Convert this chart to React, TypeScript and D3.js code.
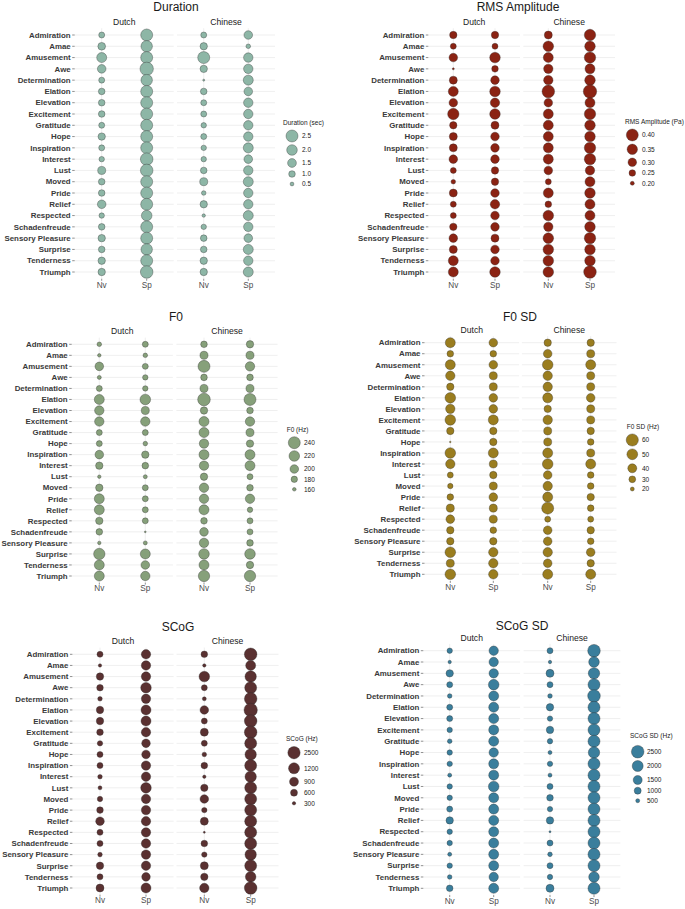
import React from "react";
import * as d3 from "d3";

const emotions = ["Admiration","Amae","Amusement","Awe","Determination","Elation","Elevation","Excitement","Gratitude","Hope","Inspiration","Interest","Lust","Moved","Pride","Relief","Respected","Schadenfreude","Sensory Pleasure","Surprise","Tenderness","Triumph"];
const cultures = ["Dutch", "Chinese"];
const vocalTypes = ["Nv", "Sp"];

// Duration (sec)
const durationDutchNv = [0.89,1.25,1.83,1.45,0.89,1.0,1.0,1.0,0.89,1.18,0.89,0.79,1.32,1.0,1.0,1.45,0.79,1.0,1.18,1.0,1.18,1.18];
const durationDutchSp = [2.5,2.3,2.5,3.0,2.3,2.5,2.5,2.5,2.5,2.5,2.5,2.7,2.7,2.5,2.5,2.5,2.0,2.5,2.5,2.3,2.5,2.7];
const durationChineseNv = [0.89,1.18,2.5,1.18,0.18,1.0,0.89,0.89,0.79,0.89,0.79,0.79,1.0,1.32,0.64,1.18,0.43,0.79,1.0,1.0,1.18,1.18];
const durationChineseSp = [1.45,0.64,1.67,1.67,1.83,1.45,1.67,1.67,1.67,1.67,1.83,1.45,1.67,1.83,1.67,1.67,1.83,1.67,1.45,1.83,1.67,1.83];
const durationBreaks = [0.5, 1.0, 1.5, 2.0, 2.5];
const durationBreakLabels = ["0.5", "1.0", "1.5", "2.0", "2.5"];

// RMS Amplitude (Pa)
const rmsDutchNv = [0.27,0.238,0.30,0.162,0.285,0.339,0.30,0.381,0.27,0.285,0.285,0.30,0.238,0.212,0.285,0.238,0.238,0.27,0.30,0.285,0.339,0.339];
const rmsDutchSp = [0.27,0.238,0.356,0.25,0.30,0.356,0.322,0.356,0.285,0.30,0.30,0.30,0.27,0.27,0.30,0.322,0.30,0.30,0.285,0.30,0.30,0.356];
const rmsChineseNv = [0.285,0.356,0.339,0.322,0.322,0.419,0.30,0.339,0.339,0.339,0.339,0.339,0.30,0.238,0.339,0.25,0.356,0.322,0.356,0.356,0.356,0.356];
const rmsChineseSp = [0.381,0.356,0.381,0.339,0.356,0.444,0.339,0.381,0.356,0.356,0.381,0.381,0.322,0.339,0.356,0.339,0.339,0.356,0.381,0.356,0.356,0.419];
const rmsBreaks = [0.2, 0.25, 0.3, 0.35, 0.4];
const rmsBreakLabels = ["0.20", "0.25", "0.30", "0.35", "0.40"];

// F0 (Hz)
const f0DutchNv = [167,159,200,163,177,214,208,208,177,177,200,189,159,189,214,214,189,182,159,231,214,214];
const f0DutchSp = [177,167,177,173,173,220,195,208,177,167,189,182,163,177,177,177,177,147,163,214,200,208];
const f0ChineseNv = [182,195,240,182,195,249,189,214,214,208,214,208,189,208,208,214,182,200,208,220,214,231];
const f0ChineseSp = [189,195,208,182,195,240,182,208,195,189,214,214,177,182,208,173,177,177,182,220,189,231];
const f0Breaks = [160, 180, 200, 220, 240];
const f0BreakLabels = ["160", "180", "200", "220", "240"];

// F0 SD (Hz)
const f0sdDutchNv = [45.6,29.3,45.6,42.2,32.7,48.9,42.2,48.9,32.7,11.4,48.9,42.2,27.1,25,29.3,35.5,38.2,32.7,32.7,48.9,35.5,48.9];
const f0sdDutchSp = [38.2,29.3,38.2,35.5,35.5,38.2,38.2,45.6,32.7,32.7,45.6,35.5,32.7,35.5,38.2,35.5,35.5,29.3,32.7,42.2,42.2,42.2];
const f0sdChineseNv = [32.7,38.2,48.9,42.2,42.2,45.6,32.7,42.2,35.5,35.5,45.6,48.9,38.2,42.2,45.6,58.6,27.1,38.2,38.2,42.2,38.2,45.6];
const f0sdChineseSp = [32.7,35.5,45.6,35.5,35.5,38.2,35.5,35.5,32.7,29.3,35.5,45.6,29.3,29.3,32.7,29.3,27.1,32.7,29.3,38.2,32.7,45.6];
const f0sdBreaks = [20, 30, 40, 50, 60];
const f0sdBreakLabels = ["20", "30", "40", "50", "60"];

// SCoG (Hz)
const scogDutchNv = [517,300,660,567,400,660,660,567,467,517,517,400,350,467,567,840,517,517,400,660,517,750];
const scogDutchSp = [960,960,960,1140,960,1050,1050,960,840,840,960,960,1140,960,960,960,960,960,960,960,840,1050];
const scogChineseNv = [567,300,1140,517,350,840,517,750,517,400,567,300,660,840,467,750,183,567,467,750,660,960];
const scogChineseSp = [2686,1050,1571,2129,2686,3429,2686,2686,2129,1571,2129,1571,2129,2129,2129,2129,2129,2129,1571,2129,1140,2686];
const scogBreaks = [300, 600, 900, 1200, 2500];
const scogBreakLabels = ["300", "600", "900", "1200", "2500"];

// SCoG SD (Hz)
const scogsdDutchNv = [733,400,1100,833,600,833,833,733,600,733,733,500,733,733,833,1100,733,733,500,733,600,933];
const scogsdDutchSp = [1600,1600,1600,1900,1750,1750,1750,1750,1750,1600,1750,1750,1900,1750,1750,1750,1750,1750,1750,1750,1600,1750];
const scogsdChineseNv = [833,400,1250,833,600,1100,733,1100,733,500,733,500,833,933,733,1100,167,833,600,833,733,1250];
const scogsdChineseSp = [2500,1900,2125,2313,2500,2313,2313,2313,2313,2125,2313,2313,2313,2313,2313,2313,2313,2313,2313,2313,1900,2313];
const scogsdBreaks = [500, 1000, 1500, 2000, 2500];
const scogsdBreakLabels = ["500", "1000", "1500", "2000", "2500"];

const FONT = "'Liberation Sans', Arial, Helvetica, sans-serif";

const panels = [
  {
    title: "Duration", legendTitle: "Duration (sec)", fill: "#8DB6A6",
    breaks: durationBreaks, breakLabels: durationBreakLabels, radii: [1.9, 3.3, 4.4, 5.3, 6.0],
    data: { Dutch: { Nv: durationDutchNv, Sp: durationDutchSp }, Chinese: { Nv: durationChineseNv, Sp: durationChineseSp } },
    titleX: 176, titleY: 7, stripY: 22, rowTop: 35, rowBottom: 272, xLabelY: 285,
    facetX: { Dutch: [74.7, 173.7], Chinese: [177, 275] },
    legend: { titleX: 283, titleY: 123, keyX: 292, keyY: [136, 150, 163, 174, 184], labelX: 302 },
  },
  {
    title: "RMS Amplitude", legendTitle: "RMS Amplitude (Pa)", fill: "#8B2313",
    breaks: rmsBreaks, breakLabels: rmsBreakLabels, radii: [2, 3.3, 4.3, 5.2, 6.0],
    data: { Dutch: { Nv: rmsDutchNv, Sp: rmsDutchSp }, Chinese: { Nv: rmsChineseNv, Sp: rmsChineseSp } },
    titleX: 518, titleY: 7, stripY: 22, rowTop: 35, rowBottom: 272, xLabelY: 285,
    facetX: { Dutch: [428.3, 520], Chinese: [523.3, 615] },
    legend: { titleX: 625, titleY: 121.7, keyX: 632.3, keyY: [135, 149.3, 162.3, 173, 183.3], labelX: 642 },
  },
  {
    title: "F0", legendTitle: "F0 (Hz)", fill: "#86A07A",
    breaks: f0Breaks, breakLabels: f0BreakLabels, radii: [1.8, 3.2, 4.3, 5.3, 6.0],
    data: { Dutch: { Nv: f0DutchNv, Sp: f0DutchSp }, Chinese: { Nv: f0ChineseNv, Sp: f0ChineseSp } },
    titleX: 176, titleY: 317, stripY: 331, rowTop: 344.3, rowBottom: 576, xLabelY: 588,
    facetX: { Dutch: [71.7, 172.9], Chinese: [176.4, 277.6] },
    legend: { titleX: 286.7, titleY: 430, keyX: 294.3, keyY: [442.7, 456, 469, 479.3, 489.3], labelX: 304 },
  },
  {
    title: "F0 SD", legendTitle: "F0 SD (Hz)", fill: "#9A7D1F",
    breaks: f0sdBreaks, breakLabels: f0sdBreakLabels, radii: [2, 3.4, 4.5, 5.4, 6.1],
    data: { Dutch: { Nv: f0sdDutchNv, Sp: f0sdDutchSp }, Chinese: { Nv: f0sdChineseNv, Sp: f0sdChineseSp } },
    titleX: 520, titleY: 317, stripY: 330, rowTop: 342.7, rowBottom: 574.3, xLabelY: 587,
    facetX: { Dutch: [424.5, 519.1], Chinese: [521.9, 616.5] },
    legend: { titleX: 626.7, titleY: 426.7, keyX: 632.3, keyY: [440, 454.3, 468.3, 479.3, 489], labelX: 642 },
  },
  {
    title: "SCoG", legendTitle: "SCoG (Hz)", fill: "#5A3131",
    breaks: scogBreaks, breakLabels: scogBreakLabels, radii: [1.7, 3.5, 4.5, 5.5, 6.2],
    data: { Dutch: { Nv: scogDutchNv, Sp: scogDutchSp }, Chinese: { Nv: scogChineseNv, Sp: scogChineseSp } },
    titleX: 178, titleY: 627, stripY: 641, rowTop: 654.3, rowBottom: 888, xLabelY: 900,
    facetX: { Dutch: [72.4, 173.6], Chinese: [176.5, 278.5] },
    legend: { titleX: 286, titleY: 738.3, keyX: 294, keyY: [752.7, 768.3, 781.7, 792.7, 803.3], labelX: 304 },
  },
  {
    title: "SCoG SD", legendTitle: "SCoG SD (Hz)", fill: "#3A7E9C",
    breaks: scogsdBreaks, breakLabels: scogsdBreakLabels, radii: [2, 3.5, 4.5, 5.5, 6.3],
    data: { Dutch: { Nv: scogsdDutchNv, Sp: scogsdDutchSp }, Chinese: { Nv: scogsdChineseNv, Sp: scogsdChineseSp } },
    titleX: 522, titleY: 626, stripY: 638, rowTop: 650.7, rowBottom: 888.3, xLabelY: 901,
    facetX: { Dutch: [423.3, 520.1], Chinese: [523.6, 620.4] },
    legend: { titleX: 630, titleY: 736, keyX: 637.7, keyY: [751.7, 766, 780, 790.7, 800.7], labelX: 647 },
  },
];

function Panel({ p }: { p: any }) {
  const size = d3.scaleLinear().domain(p.breaks).range(p.radii);
  const rad = (v: number) => Math.max(0.8, size(v));
  const y = d3.scalePoint<string>().domain(emotions).range([p.rowTop, p.rowBottom]);
  const step = y.step();
  const pTop = p.rowTop - 0.6 * step;
  const pBottom = p.rowBottom + 0.6 * step;
  const leftX0 = p.facetX.Dutch[0];

  return (
    <g>
      <text x={p.titleX} y={p.titleY} dy="0.35em" textAnchor="middle" fontSize={12} fill="#1a1a1a">{p.title}</text>
      {cultures.map((c) => {
        const [x0, x1] = p.facetX[c];
        const x = d3.scalePoint<string>().domain(vocalTypes).range([x0, x1]).padding(0.6);
        return (
          <g key={c}>
            <text x={(x0 + x1) / 2} y={p.stripY} dy="0.35em" textAnchor="middle" fontSize={8.6} fill="#1a1a1a">{c}</text>
            {emotions.map((e) => (
              <line key={e} x1={x0} x2={x1} y1={y(e)} y2={y(e)} stroke="#ebebeb" strokeWidth={0.8} />
            ))}
            {vocalTypes.map((t) => (
              <line key={t} x1={x(t)} x2={x(t)} y1={pTop} y2={pBottom} stroke="#ebebeb" strokeWidth={0.8} />
            ))}
            {vocalTypes.map((t) => (
              <g key={"ax" + t}>
                <line x1={x(t)} x2={x(t)} y1={pBottom} y2={pBottom + 2} stroke="#444" strokeWidth={0.6} />
                <text x={x(t)} y={p.xLabelY} dy="0.35em" textAnchor="middle" fontSize={8.2} fill="#4d4d4d">{t}</text>
              </g>
            ))}
            {vocalTypes.map((t) =>
              emotions.map((e, i) => (
                <circle key={t + e} cx={x(t)} cy={y(e)} r={rad(p.data[c][t][i])} fill={p.fill} stroke="#2b2b2b" strokeOpacity={0.7} strokeWidth={0.5} />
              ))
            )}
          </g>
        );
      })}
      {emotions.map((e) => (
        <g key={"yl" + e}>
          <line x1={leftX0 - 2.5} x2={leftX0} y1={y(e)} y2={y(e)} stroke="#444" strokeWidth={0.6} />
          <text x={leftX0 - 4} y={y(e)} dy="0.35em" textAnchor="end" fontSize={7.9} fontWeight="bold" fill="#3a3a3a">{e}</text>
        </g>
      ))}
      <text x={p.legend.titleX} y={p.legend.titleY} dy="0.35em" fontSize={6.5} fill="#1a1a1a">{p.legendTitle}</text>
      {p.breaks.slice().reverse().map((b: number, i: number) => (
        <g key={"lg" + i}>
          <circle cx={p.legend.keyX} cy={p.legend.keyY[i]} r={rad(b)} fill={p.fill} stroke="#2b2b2b" strokeOpacity={0.7} strokeWidth={0.5} />
          <text x={p.legend.labelX} y={p.legend.keyY[i]} dy="0.35em" fontSize={6.5} fill="#1a1a1a">{p.breakLabels[p.breaks.length - 1 - i]}</text>
        </g>
      ))}
    </g>
  );
}

export default function App() {
  return (
    <svg width={685} height={909} style={{ position: "absolute", left: 0, top: 0, background: "#fff" }} fontFamily={FONT}>
      <rect width={685} height={909} fill="#fff" />
      {panels.map((p) => (
        <Panel key={p.title} p={p} />
      ))}
    </svg>
  );
}
